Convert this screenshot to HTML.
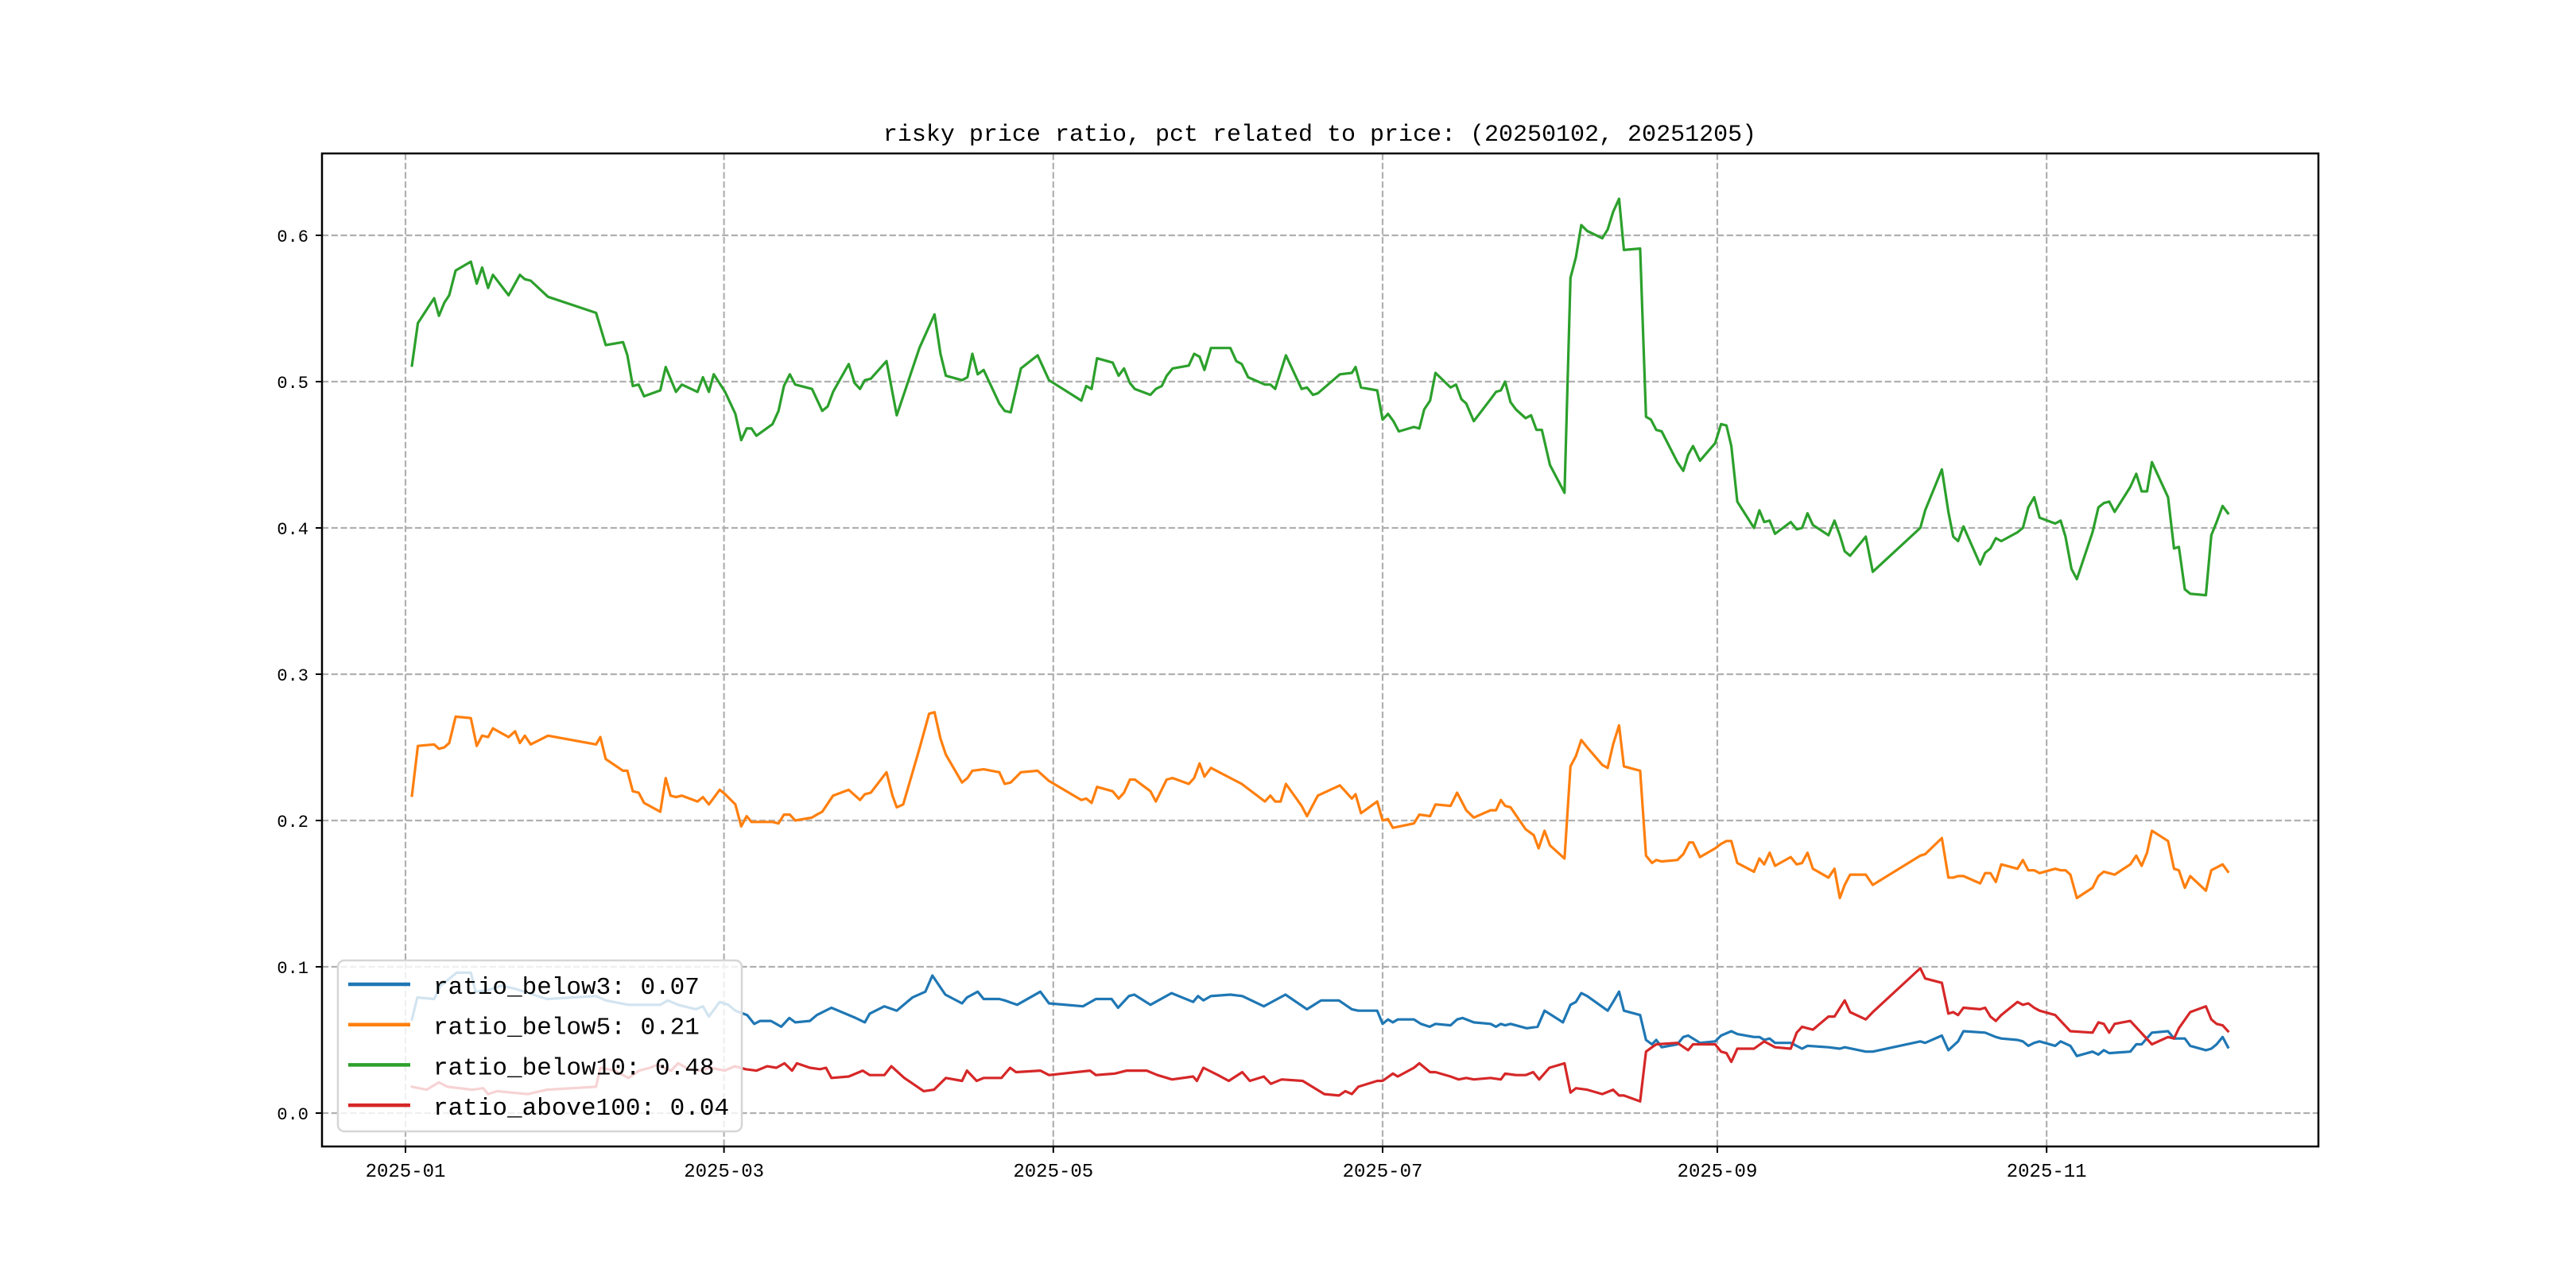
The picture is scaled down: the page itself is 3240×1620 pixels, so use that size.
<!DOCTYPE html>
<html><head><meta charset="utf-8"><title>risky price ratio</title>
<style>html,body{margin:0;padding:0;background:#fff;}svg{display:block;}</style>
</head><body>
<svg id="chart" xmlns="http://www.w3.org/2000/svg" width="3240" height="1620" viewBox="0 0 3240 1620">
<rect x="0" y="0" width="3240" height="1620" fill="#fff"/>
<g id="grid"></g>
<g id="series"></g>
<g id="axes"></g>
<g id="legend"></g>
<text x="1660" y="177" text-anchor="middle" font-family="'Liberation Mono', monospace" font-size="30" fill="#000">risky price ratio, pct related to price: (20250102, 20251205)</text>
</svg>
<script>
// ---- data (x = days since 2025-01-01) ----
const xTickLabels = ["2025-01","2025-03","2025-05","2025-07","2025-09","2025-11"];
const xTickDays = [0,59,120,181,243,304];
const yTickValues = [0.0,0.1,0.2,0.3,0.4,0.5,0.6];
const seriesNames = ["ratio_below3","ratio_below5","ratio_below10","ratio_above100"];
const legendValues = ["0.07","0.21","0.48","0.04"];

const below3Days = [1.2,2.2,5.3,6.5,9.5,12.1,13,15.3,17.7,20.3,
26.2,35.3,37.1,41.3,44,47.2,48.6,50.5,53.8,55.1,
56.2,58.2,59.8,61.1,63.3,64.6,65.7,67.7,69.6,71.1,
72.2,74.9,76.2,78.9,83.4,85.1,86,88.7,91,93.9,
96.3,97.6,100,103.1,104,106,107.1,110,111,113.3,
117.6,119.2,125.5,127.9,130.8,132,134,135,138,141.9,
145.9,146.8,147.8,149.2,152.8,155,159,160,163,167,
169.6,172.9,
175.3,176.5,180,181,182,182.9,183.8,186.8,188.1,189.7,
190.8,193.6,194.8,195.8,197.9,201,202,202.9,203.7,204.7,
207.7,209.7,211,214.4,215.8,216.8,217.8,218.9,222.7,223.7,
224.8,225.7,228.7,229.8,230.9,231.7,232.7,235.6,236.7,237.6,
238.5,239.8,242.6,243.7,245.6,246.7,249.8,250.8,251.7,252.7,
253.7,256.6,258.7,259.7,263.6,265.7,266.6,270.5,271.8,280.6,
281.5,284.6,285.8,287.6,288.6,292.6,294.6,295.6,298.6,299.6,
300.6,301.7,302.7,305.6,306.6,308.4,309.6,312.5,313.6,314.6,
315.6,319.5,320.6,321.6,323.5,326.5,327.6,328.5,329.6,330.6,
333.5,334.5,335.5,336.6,337.6];
const below3Values = [.064,.079,.078,.087,.096,.096,.083,.084,.087,.085,
.078,.080,.077,.074,.074,.074,.077,.074,.071,.073,
.066,.076,.074,.070,.067,.061,.063,.063,.059,.065,
.062,.063,.067,.072,.065,.062,.068,.073,.070,.079,
.083,.094,.081,.075,.079,.083,.078,.078,.077,.074,
.083,.075,.073,.078,.078,.072,.080,.081,.074,.082,
.076,.080,.077,.080,.081,.080,.073,.075,.081,.071,
.077,.077,
.071,.070,.070,.061,.064,.062,.064,.064,.061,.059,
.061,.060,.064,.065,.062,.061,.059,.061,.060,.061,
.058,.059,.070,.062,.074,.076,.082,.080,.070,.076,
.083,.070,.067,.050,.047,.050,.045,.047,.052,.053,
.051,.048,.049,.053,.056,.054,.052,.052,.050,.051,
.048,.048,.044,.046,.045,.044,.045,.042,.042,.049,
.048,.053,.043,.049,.056,.055,.052,.051,.050,.049,
.046,.048,.049,.046,.049,.046,.039,.042,.040,.043,
.041,.042,.047,.047,.055,.056,.051,.051,.051,.046,
.043,.044,.047,.052,.045];

const below5Days = [1.2,2.3,5.3,6.2,7.2,8.1,9.3,12.1,13.2,14.2,
15.3,16.2,19.1,20.3,21.2,22.1,23.2,26.4,35.3,36.1,
37.1,40.3,41.1,42.1,43.2,44.2,47.2,48.2,49.1,50.1,
51.2,54.1,55.1,56.2,58.2,59.2,61.1,62.2,63.2,64.1,
68.0,69.1,70.1,71.2,72.2,75.3,76.2,77.2,79.2,82.1,
84.2,85.1,86.2,89.1,90.2,91.0,92.2,95.2,97.0,98.0,
99.1,100.1,103.1,104.1,105.0,107.1,110.0,111.0,112.1,114.0,
117.1,119.2,125.2,126.1,127.1,128.1,131.0,132.1,133.1,134.2,
135.1,138.0,139.0,141.0,142.1,145.1,146.1,147.1,148.0,149.2,
154.9,159.2,160.2,161.1,162.1,163.1,166.0,167.0,169.0,173.1,
175.3,176,177,180,181,182,182.9,186.8,187.8,189.8,
190.8,193.6,194.8,196.5,197.9,201,202,202.9,203.7,204.7,
207.5,209,209.9,211,212,214.7,215.8,216.8,217.8,218.9,
221.7,222.7,223.7,224.8,225.7,228.7,229.8,230.9,231.7,232.7,
235.6,236.7,237.8,238.5,239.8,242.6,243.7,244.7,245.6,246.7,
249.8,250.8,251.7,252.7,253.7,256.6,257.7,258.7,259.7,260.7,
263.6,264.7,265.7,266.6,267.6,270.5,271.8,280.6,281.5,284.6,
285.8,286.7,287.6,288.6,291.7,292.6,293.6,294.6,295.6,298.6,
299.6,300.6,301.7,302.7,305.6,306.6,307.5,308.4,309.6,312.5,
313.6,314.6,316.6,319.5,320.6,321.6,322.6,323.5,326.5,327.6,
328.5,329.6,330.6,333.5,334.5,336.6,337.6];
const below5Values = [.217,.251,.252,.249,.250,.253,.271,.270,.251,.258,
.257,.263,.257,.261,.253,.258,.252,.258,.252,.257,
.242,.234,.234,.220,.219,.212,.206,.229,.217,.216,
.217,.213,.216,.211,.221,.218,.211,.196,.203,.199,
.199,.198,.204,.204,.200,.202,.204,.206,.217,.221,
.214,.218,.219,.233,.217,.209,.211,.249,.273,.274,
.256,.245,.226,.229,.234,.235,.233,.225,.226,.233,
.234,.227,.214,.215,.212,.223,.220,.215,.219,.228,
.228,.220,.213,.228,.229,.225,.229,.239,.230,.236,
.225,.213,.217,.213,.213,.225,.210,.203,.217,.224,
.215,.218,.205,.213,.200,.201,.195,.198,.204,.203,
.211,.210,.219,.207,.202,.207,.207,.214,.210,.209,
.194,.190,.181,.193,.183,.174,.237,.244,.255,.250,
.238,.236,.252,.265,.237,.234,.176,.171,.173,.172,
.173,.177,.185,.185,.175,.181,.184,.186,.186,.171,
.165,.174,.170,.178,.169,.175,.170,.171,.178,.167,
.161,.167,.147,.156,.163,.163,.156,.176,.177,.188,
.161,.161,.162,.162,.157,.164,.164,.158,.170,.167,
.173,.166,.166,.164,.167,.166,.166,.163,.147,.154,
.162,.165,.163,.170,.176,.169,.178,.193,.186,.167,
.166,.154,.162,.152,.166,.170,.165];

const below10Days = [1.2,2.3,5.3,6.2,7.2,8.1,9.3,12.1,13.2,14.2,
15.3,16.2,19.1,21.2,22.1,23.2,26.4,35.3,37.1,40.3,
41.1,42.1,43.2,44.2,47.2,48.2,50.1,51.2,54.1,55.1,
56.2,57.1,59.2,61.1,62.2,63.2,64.1,65.0,68.0,69.1,
70.1,71.2,72.2,75.3,77.2,78.2,79.2,82.1,83.2,84.2,
85.1,86.2,89.1,91.0,92.2,95.2,98.0,99.1,100.1,103.1,
104.1,105.0,106.0,107.1,110.0,111.0,112.1,114.0,117.1,119.2,
125.2,126.1,127.1,128.1,131.0,132.1,133.1,134.2,135.1,138.0,
139.0,140.1,141.0,142.1,145.1,146.1,147.1,148.0,149.2,152.8,
153.9,154.9,156.1,159.2,160.2,161.1,163.1,166.0,167.0,168.1,
169.0,173.1,
175.3,176,177,180,181,182,183,184,186.8,187.8,
188.7,189.8,190.8,193.6,194.6,195.6,196.5,197.9,201,202,
202.9,203.7,204.7,205.7,207.5,208.5,209.5,210.5,212,214.7,
215.8,216.8,217.8,218.9,221.7,222.7,223.7,224.8,225.7,228.7,
229.8,230.7,231.7,232.7,235.6,236.7,237.6,238.5,239.8,242.6,
243.7,244.7,245.6,246.7,249.8,250.8,251.7,252.7,253.7,256.6,
257.7,258.7,259.7,260.7,263.6,264.7,265.7,266.6,267.6,270.5,
271.8,280.6,281.5,284.6,285.8,286.7,287.6,288.6,291.7,292.6,
293.6,294.6,295.6,298.6,299.6,300.6,301.7,302.7,305.6,306.6,
307.5,308.6,309.6,312.5,313.6,314.6,315.6,316.6,319.5,320.6,
321.6,322.6,323.5,326.5,327.6,328.5,329.6,330.6,333.5,334.5,
335.5,336.6,337.6];
const below10Values = [.511,.540,.557,.545,.554,.559,.576,.582,.567,.578,
.564,.573,.559,.573,.570,.569,.558,.547,.525,.527,
.518,.497,.498,.490,.494,.510,.493,.498,.493,.503,
.493,.505,.493,.478,.460,.468,.468,.463,.471,.480,
.497,.505,.498,.495,.480,.483,.493,.512,.499,.495,
.501,.502,.514,.477,.490,.523,.546,.519,.504,.501,
.503,.519,.505,.508,.485,.480,.479,.509,.518,.501,
.487,.497,.495,.516,.513,.504,.509,.499,.495,.491,
.495,.497,.504,.509,.511,.519,.517,.508,.523,.523,
.514,.512,.503,.498,.498,.495,.518,.495,.496,.491,
.492,.505,
.506,.510,.496,.494,.474,.478,.473,.466,.469,.468,
.481,.487,.506,.496,.498,.488,.485,.473,.488,.493,
.494,.500,.486,.481,.475,.477,.467,.467,.443,.424,
.571,.585,.607,.603,.598,.604,.616,.625,.590,.591,
.476,.474,.467,.466,.445,.439,.450,.456,.446,.458,
.471,.470,.456,.418,.400,.412,.404,.405,.396,.404,
.399,.400,.410,.402,.395,.405,.395,.384,.381,.394,
.370,.400,.412,.440,.411,.394,.391,.401,.375,.383,
.386,.393,.391,.397,.400,.414,.421,.407,.403,.405,
.394,.372,.365,.397,.414,.417,.418,.411,.428,.437,
.425,.425,.445,.421,.386,.387,.358,.355,.354,.395,
.404,.415,.410];

const above100Days = [1.2,3.9,6.2,7.8,12.4,14.4,15.3,17,19.6,22.7,
26.2,35.3,36.1,38.7,41.3,43.3,45.3,46.6,49.2,50.5,
52.5,54.5,56.5,59.1,61,63,65,67,68.7,70.2,
71.6,72.5,74.9,76.8,77.9,78.9,82.1,84.7,86,88.7,
90,92.4,96,97.9,100.1,103.1,104,105.8,107.1,110.4,
112,113.1,117.6,119.2,126.8,127.9,131.4,133.6,137.3,139.3,
142,145.9,146.6,147.8,150.5,152.5,155,156.4,159,160.3,
162.3,166.2,170.2,172.9,174.1,
175.3,176.5,180,181,182.9,183.8,186.8,187.8,189.8,190.8,
193.6,195.1,196.5,197.9,201,202.9,203.7,205.7,207.5,208.9,
210,211.9,214.7,215.8,216.8,218.9,221.7,223.7,224.8,225.7,
228.7,229.8,230.9,231.7,235.6,237.6,238.5,242.6,243.7,244.7,
245.6,246.7,249.8,251.7,252.7,253.7,256.6,257.7,258.7,259.7,
260.7,263.6,264.7,266.6,267.6,270.5,271.8,280.6,281.5,284.6,
285.8,286.7,287.6,288.6,291.7,292.6,293.6,294.6,295.6,298.6,
299.6,300.6,301.7,302.7,305.6,306.6,308.4,312.5,313.6,314.6,
315.6,316.6,319.5,323.5,326.5,327.6,328.5,330.6,333.5,334.5,
335.5,336.6,337.6];
const above100Values = [.018,.016,.021,.018,.016,.017,.013,.015,.014,.013,
.016,.018,.031,.029,.024,.029,.031,.033,.029,.034,
.030,.029,.031,.029,.032,.030,.029,.032,.031,.034,
.029,.034,.031,.030,.031,.024,.025,.029,.026,.026,
.032,.024,.015,.016,.024,.022,.029,.022,.024,.024,
.031,.028,.029,.026,.029,.026,.027,.029,.029,.026,
.023,.025,.022,.031,.026,.022,.028,.022,.025,.020,
.023,.022,.013,.012,.015,
.013,.018,.022,.022,.027,.025,.031,.034,.028,.028,
.025,.023,.024,.023,.024,.023,.027,.026,.026,.028,
.023,.031,.034,.014,.017,.016,.013,.016,.012,.012,
.008,.042,.045,.047,.048,.043,.047,.047,.042,.041,
.035,.044,.044,.049,.047,.045,.044,.055,.059,.058,
.057,.066,.066,.077,.069,.064,.069,.099,.092,.089,
.068,.069,.067,.072,.071,.072,.066,.063,.067,.076,
.074,.075,.072,.070,.067,.063,.056,.055,.062,.061,
.055,.061,.063,.047,.052,.051,.058,.069,.073,.064,
.061,.060,.056];

// ---- layout ----
const NS = "http://www.w3.org/2000/svg";
const plotL = 405, plotR = 2916, plotT = 193, plotB = 1442;
const dayPx = 6.79, day0X = 510;
const y0 = 1400, unitPx = 1840;
function xScale(d){ return day0X + d*dayPx; }
function yScale(v){ return y0 - v*unitPx; }
function mk(tag, attrs, parent){
  const el = document.createElementNS(NS, tag);
  for (const k in attrs) el.setAttribute(k, attrs[k]);
  parent.appendChild(el);
  return el;
}
const grid = document.getElementById('grid');
const axes = document.getElementById('axes');
const seriesG = document.getElementById('series');
const legend = document.getElementById('legend');
const gridStyle = {stroke:"#b0b0b0","stroke-width":2.2,"stroke-dasharray":"8.2,3.5",fill:"none"};
const tickFont = "'Liberation Mono', monospace";

// x grid + ticks
xTickDays.forEach((d,i)=>{
  const x = xScale(d);
  const gl = mk('line', Object.assign({x1:x,x2:x,y1:plotT,y2:plotB}, gridStyle), grid);
  
  
  const tk = mk('line', {x1:x,x2:x,y1:plotB,y2:plotB+8,stroke:"#000","stroke-width":2}, axes);
  
  
  const t = mk('text', {x:x,y:plotB+38,"text-anchor":"middle","font-family":tickFont,"font-size":24,fill:"#000"}, axes);
  t.textContent = xTickLabels[i];
  
  
});
// y grid + ticks
yTickValues.forEach(v=>{
  const y = yScale(v);
  const gl = mk('line', Object.assign({x1:plotL,x2:plotR,y1:y,y2:y}, gridStyle), grid);
  
  
  const tk = mk('line', {x1:plotL-8,x2:plotL,y1:y,y2:y,stroke:"#000","stroke-width":2}, axes);
  
  
  const t = mk('text', {x:plotL-17,y:y+8,"text-anchor":"end","font-family":tickFont,"font-size":22,fill:"#000"}, axes);
  t.textContent = v.toFixed(1);
  
  
});
// frame
const frame = mk('rect', {x:plotL,y:plotT,width:plotR-plotL,height:plotB-plotT,fill:"none",stroke:"#000","stroke-width":2.5}, axes);



// series
const colors = ["#1f77b4","#ff7f0e","#2ca02c","#d62728"];
const allDays = [below3Days, below5Days, below10Days, above100Days];
const allVals = [below3Values, below5Values, below10Values, above100Values];
allDays.forEach((days,si)=>{
  const vals = allVals[si];
  const n = Math.min(days.length, vals.length);
  let d = "";
  for (let i=0;i<n;i++){
    d += (i?"L":"M") + xScale(days[i]).toFixed(1) + "," + yScale(vals[i]).toFixed(1);
  }
  const p = mk('path', {d:d,fill:"none",stroke:colors[si],"stroke-width":3.2,"stroke-linejoin":"round","stroke-linecap":"square"}, seriesG);
  
  
});

// legend
const lb = mk('rect', {x:425,y:1208,width:508,height:215,rx:8,ry:8,fill:"#fff","fill-opacity":0.8,stroke:"#d6d6d6","stroke-width":2.5}, legend);


seriesNames.forEach((nm,i)=>{
  const y = 1238 + i*50.7;
  const ln = mk('line', {x1:438,x2:516,y1:y,y2:y,stroke:colors[i],"stroke-width":4.5}, legend);
  
  
  const t = mk('text', {x:545,y:y+12,"font-family":tickFont,"font-size":31,fill:"#000"}, legend);
  t.textContent = nm + ": " + legendValues[i];
  
  
});
</script>
</body></html>
